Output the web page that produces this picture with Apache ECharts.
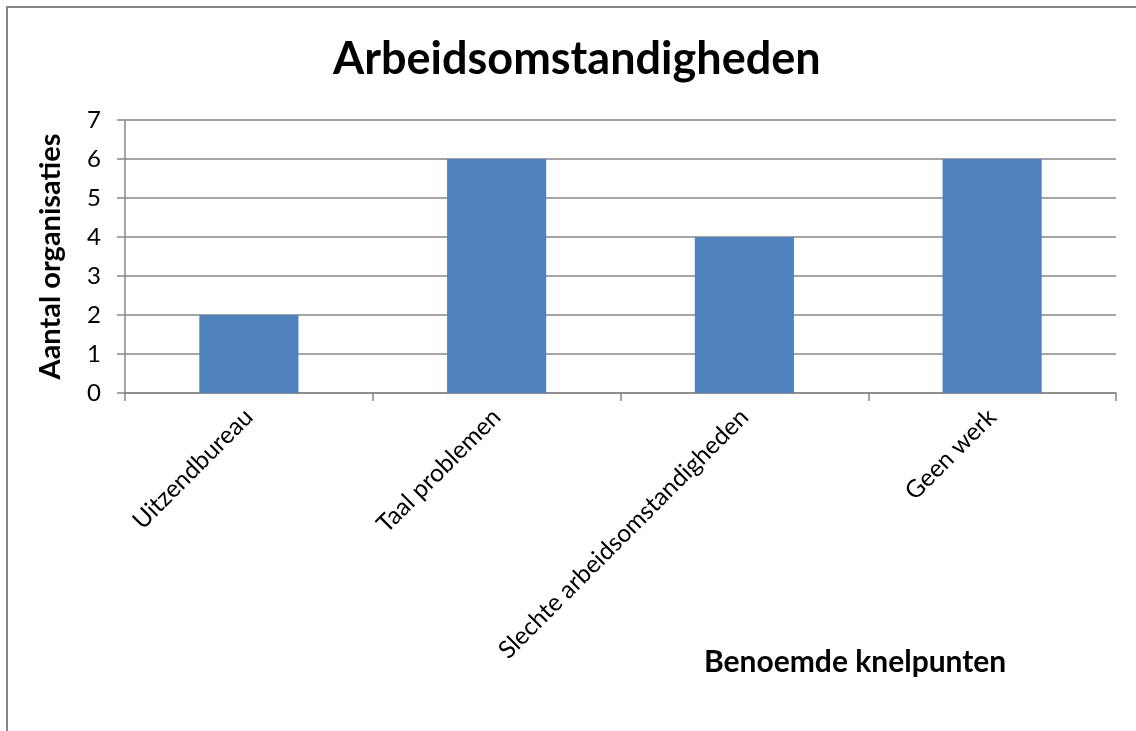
<!DOCTYPE html>
<html>
<head>
<meta charset="utf-8">
<script src="https://cdn.jsdelivr.net/npm/echarts@6/dist/echarts.min.js"></script>
<style>
  html, body { margin: 0; padding: 0; background: #fff; }
  #chart { width: 1136px; height: 731px; }
</style>
</head>
<body>
<div id="chart"></div>
<script>
// Data
const categories = ['Uitzendbureau', 'Taal problemen', 'Slechte arbeidsomstandigheden', 'Geen werk'];
const values = [2, 6, 4, 6];
const yTicks = { min: 0, max: 7, interval: 1 };

const FONT = 'Lato, "Open Sans", sans-serif';
const GRAY = '#878787';

const chart = echarts.init(document.getElementById('chart'));
chart.setOption({
  animation: false,
  backgroundColor: '#fff',
  textStyle: { fontFamily: FONT },
  graphic: [{
    type: 'rect',
    shape: { x: 7, y: 7, width: 1300, height: 900 },
    style: { fill: 'none', stroke: GRAY, lineWidth: 2 },
    silent: true
  }],
  title: [
    {
      text: 'Arbeidsomstandigheden',
      left: 328,
      top: 32,
      textStyle: { fontFamily: FONT, fontSize: 45, fontWeight: 'bold', color: '#000' }
    },
    {
      text: 'Benoemde knelpunten',
      left: 699,
      top: 642,
      textStyle: { fontFamily: FONT, fontSize: 30, fontWeight: 'bold', color: '#000' }
    }
  ],
  grid: { left: 125, right: 20, top: 120, bottom: 338, containLabel: false },
  xAxis: {
    type: 'category',
    data: categories,
    axisLine: { lineStyle: { color: GRAY, width: 1.5 } },
    axisTick: { show: true, length: 8, lineStyle: { color: GRAY, width: 1.5 } },
    axisLabel: {
      rotate: 45,
      interval: 0,
      fontSize: 24.5,
      color: '#000',
      fontFamily: FONT,
      margin: 20
    },
    splitLine: { show: false }
  },
  yAxis: {
    type: 'value',
    min: yTicks.min,
    max: yTicks.max,
    interval: yTicks.interval,
    name: 'Aantal organisaties',
    nameLocation: 'middle',
    nameGap: 60,
    nameRotate: 90,
    nameTextStyle: { fontFamily: FONT, fontSize: 29, fontWeight: 'bold', color: '#000' },
    axisLine: { show: true, lineStyle: { color: GRAY, width: 1.5 } },
    axisTick: { show: true, length: 8, lineStyle: { color: GRAY, width: 1.5 } },
    axisLabel: { fontSize: 24, color: '#000', fontFamily: FONT, margin: 24 },
    splitLine: { show: true, lineStyle: { color: GRAY, width: 1.5 } }
  },
  series: [{
    type: 'bar',
    data: values,
    barWidth: '40%',
    itemStyle: { color: '#4f81bd' }
  }]
});
</script>
</body>
</html>
